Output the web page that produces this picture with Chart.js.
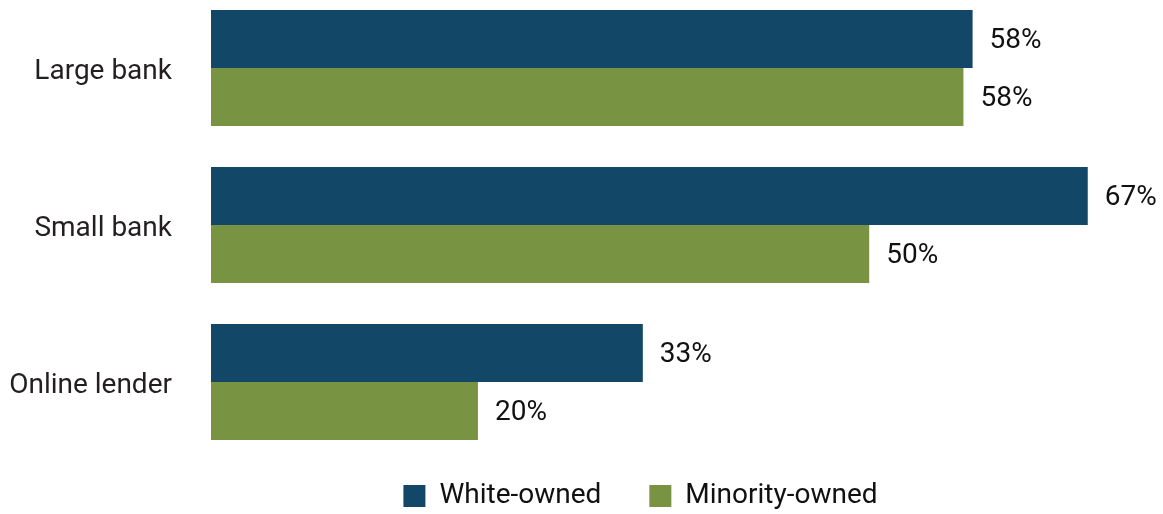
<!DOCTYPE html>
<html>
<head>
<meta charset="utf-8">
<script src="https://cdn.jsdelivr.net/npm/chart.js@4"></script>
<style>
  html, body { margin: 0; padding: 0; background: #fff; }
  #wrap { width: 1163px; height: 514px; }
</style>
</head>
<body>
<div id="wrap"><canvas id="lenderChart"></canvas></div>
<script>
const categories = ['Large bank', 'Small bank', 'Online lender'];
const whiteOwned = [58.2, 67.0, 33.0];
const minorityOwned = [57.5, 50.3, 20.4];
const whiteLabels = ['58%', '67%', '33%'];
const minorityLabels = ['58%', '50%', '20%'];

const FONT = 'Roboto, "Liberation Sans", sans-serif';

// draws the value text just past the end of each bar
const valueLabels = {
    id: 'valueLabels',
    afterDatasetsDraw(chart) {
        const ctx = chart.ctx;
        ctx.save();
        ctx.font = '28px ' + FONT;
        ctx.fillStyle = '#111';
        ctx.textAlign = 'left';
        ctx.textBaseline = 'middle';
        chart.data.datasets.forEach((ds, i) => {
            const meta = chart.getDatasetMeta(i);
            meta.data.forEach((bar, j) => {
                const text = ds.valueText[j];
                const w = ctx.measureText(text).width;
                const x = Math.min(bar.x + 17, chart.width - w - 6);
                ctx.fillText(text, x, bar.y + 2);
            });
        });
        ctx.restore();
    }
};

// nudge the legend so it sits where the original has it
const legendShift = {
    id: 'legendShift',
    afterLayout(chart) {
        const lg = chart.legend;
        if (!lg) return;
        lg.left += 77;
        lg.right += 77;
        lg.top += 10;
        lg.bottom += 10;
    }
};

const ctx = document.getElementById('lenderChart').getContext('2d');
new Chart(ctx, {
    type: 'bar',
    data: {
        labels: categories,
        datasets: [
            {
                label: 'White-owned',
                data: whiteOwned,
                valueText: whiteLabels,
                backgroundColor: '#124767',
                categoryPercentage: 0.74,
                barPercentage: 1.0,
                clip: false
            },
            {
                label: 'Minority-owned',
                data: minorityOwned,
                valueText: minorityLabels,
                backgroundColor: '#789341',
                categoryPercentage: 0.74,
                barPercentage: 1.0,
                clip: false
            }
        ]
    },
    options: {
        indexAxis: 'y',
        responsive: true,
        maintainAspectRatio: false,
        animation: false,
        layout: { padding: { top: 68, right: 36, left: 0, bottom: 4 } },
        plugins: {
            legend: {
                position: 'bottom',
                labels: {
                    boxWidth: 22,
                    boxHeight: 22,
                    padding: 48,
                    color: '#111',
                    font: { family: FONT, size: 28 }
                }
            },
            tooltip: { enabled: false }
        },
        scales: {
            x: {
                min: 0,
                max: 70,
                display: true,
                grid: { display: false },
                border: { display: false },
                ticks: { display: false },
                afterFit: scale => { scale.height = 42; }
            },
            y: {
                offset: false,
                grid: { display: false, drawTicks: false },
                border: { display: false },
                ticks: {
                    padding: 39,
                    labelOffset: 4,
                    color: '#231f20',
                    font: { family: FONT, size: 28 }
                },
                afterFit: scale => { scale.width = 211; }
            }
        }
    },
    plugins: [valueLabels, legendShift]
});
</script>
</body>
</html>
